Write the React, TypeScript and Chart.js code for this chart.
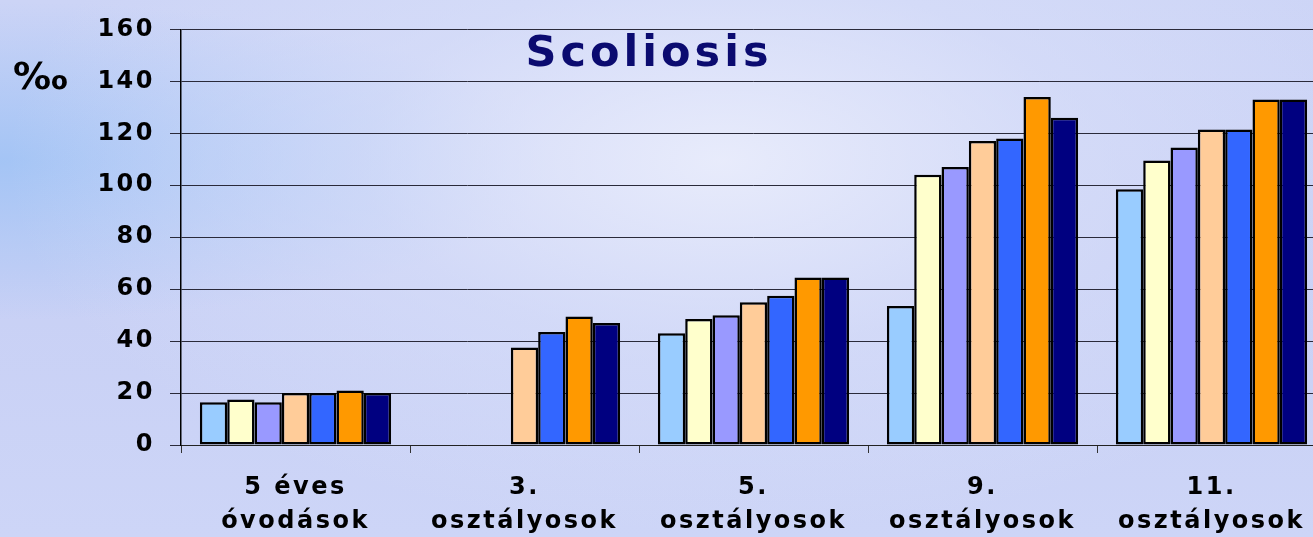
import React, { useEffect, useRef } from "react";
import { Chart, registerables } from "chart.js";

Chart.register(...registerables);

const categories: string[][] = [
  ["5 éves", "óvodások"],
  ["3.", "osztályosok"],
  ["5.", "osztályosok"],
  ["9.", "osztályosok"],
  ["11.", "osztályosok"],
];

const seriesNames = ["1", "2", "3", "4", "5", "6", "7"];
const series1 = [16.5, null, 43, 53.5, 98.5];
const series2 = [17.5, null, 48.5, 104, 109.5];
const series3 = [16.5, null, 50, 107, 114.5];
const series4 = [20, 37.5, 55, 117, 121.5];
const series5 = [20, 43.5, 57.5, 118, 121.5];
const series6 = [21, 49.5, 64.5, 134, 133];
const series7 = [20, 47, 64.5, 126, 133];
const seriesColors = ["#99CCFF", "#FFFFCC", "#9999FF", "#FFCC99", "#3366FF", "#FF9900", "#000080"];

const yMin = 0;
const yMax = 160;
const yStep = 20;
const titleText = "Scoliosis";
const unitText = "‰";

const FONT = "'DejaVu Sans', 'Liberation Sans', Arial, sans-serif";

export default function App() {
  const ref = useRef<HTMLCanvasElement | null>(null);

  useEffect(() => {
    if (!ref.current) return;
    const allSeries = [series1, series2, series3, series4, series5, series6, series7];
    const spacingPlugin = {
      id: "spacing",
      beforeUpdate(chart: any) {
        chart.ctx.letterSpacing = "2.5px";
      },
      beforeDraw(chart: any) {
        chart.ctx.letterSpacing = "2.5px";
      },
      afterDraw(chart: any) {
        const ctx = chart.ctx;
        ctx.save();
        ctx.letterSpacing = "4px";
        ctx.font = `bold 43px ${FONT}`;
        ctx.fillStyle = "#0b0b70";
        ctx.textAlign = "center";
        ctx.textBaseline = "alphabetic";
        ctx.fillText(titleText, 649, 66);
        ctx.letterSpacing = "0px";
        ctx.font = `bold 38px ${FONT}`;
        ctx.fillStyle = "#000";
        ctx.textAlign = "left";
        ctx.fillText(unitText, 13, 89);
        ctx.restore();
      },
    };
    const chart = new Chart(ref.current, {
      type: "bar",
      data: {
        labels: categories,
        datasets: allSeries.map((d, i) => ({
          label: seriesNames[i],
          data: d,
          backgroundColor: seriesColors[i],
          borderColor: "#000000",
          borderWidth: 2.5,
          borderSkipped: false,
          barPercentage: 1,
          categoryPercentage: 0.835,
        })),
      },
      options: {
        animation: false,
        responsive: false,
        devicePixelRatio: 1,
        layout: { padding: { top: 25, right: 0, bottom: 0, left: 0 } },
        plugins: { legend: { display: false }, tooltip: { enabled: false }, title: { display: false } },
        scales: {
          x: {
            offset: true,
            grid: { display: true, drawOnChartArea: false, drawTicks: true, tickLength: 8, color: "#333", offset: true },
            border: { display: true, color: "#222", width: 1 },
            ticks: {
              color: "#000",
              font: { family: FONT, size: 24, weight: "bold", lineHeight: 1.45 },
              padding: 17,
              maxRotation: 0,
              autoSkip: false,
            },
            afterFit: (s: any) => {
              s.height = 92;
            },
          },
          y: {
            min: yMin,
            max: yMax,
            ticks: {
              stepSize: yStep,
              color: "#000",
              font: { family: FONT, size: 24, weight: "bold" },
              padding: 15,
            },
            grid: { color: "#2a2a3a", lineWidth: 1, tickLength: 11 },
            border: { display: true, color: "#000", width: 1.5 },
            afterFit: (s: any) => {
              s.width = 181;
            },
          },
        },
      },
      plugins: [spacingPlugin],
    });
    return () => chart.destroy();
  }, []);

  return (
    <div
      style={{
        position: "fixed",
        left: 0,
        top: 0,
        width: 1313,
        height: 537,
        overflow: "hidden",
        background:
          "radial-gradient(ellipse at 55% 30%, rgba(235,238,252,0.9) 0%, rgba(220,226,250,0.5) 35%, rgba(200,208,245,0) 70%), radial-gradient(ellipse at 0% 30%, rgba(160,195,245,0.9) 0%, rgba(170,195,245,0) 30%), linear-gradient(180deg, #CCD4F6 0%, #C8D0F5 50%, #CDD5F7 100%)",
      }}
    >
      <canvas ref={ref} width={1326} height={537} style={{ display: "block" }} />
    </div>
  );
}
